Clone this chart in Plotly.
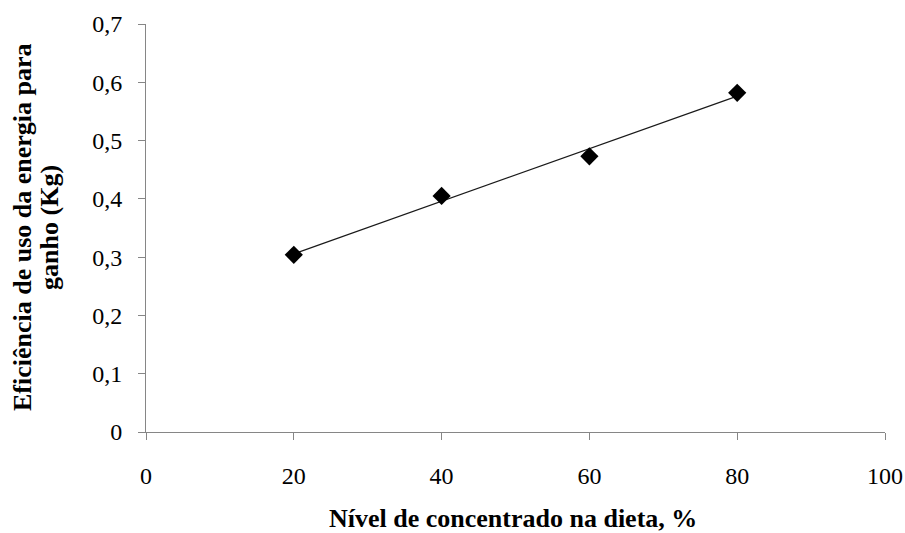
import numpy as np
import plotly.graph_objects as go

nivel = [20, 40, 60, 80]
eficiencia = [0.304, 0.405, 0.473, 0.582]
x_ticks = [0, 20, 40, 60, 80, 100]
y_ticks = [0, 0.1, 0.2, 0.3, 0.4, 0.5, 0.6, 0.7]
y_tick_labels = ["0", "0,1", "0,2", "0,3", "0,4", "0,5", "0,6", "0,7"]

slope, intercept = np.polyfit(nivel, eficiencia, 1)
trend_x = [nivel[0], nivel[-1]]
trend_y = [slope * v + intercept for v in trend_x]

FONT = "Liberation Serif, Times New Roman, serif"

fig = go.Figure()
fig.add_trace(go.Scatter(x=trend_x, y=trend_y, mode="lines",
                         line=dict(color="#1a1a1a", width=1.2), showlegend=False, hoverinfo="skip"))
fig.add_trace(go.Scatter(x=nivel, y=eficiencia, mode="markers",
                         marker=dict(symbol="diamond", size=14, color="black"), showlegend=False))

fig.update_layout(
    template="none",
    width=905, height=533,
    margin=dict(l=146, r=20, t=24, b=101, autoexpand=False),
    plot_bgcolor="white", paper_bgcolor="white",
    font=dict(family=FONT, size=24, color="black"),
    xaxis=dict(range=[0, 100], tickvals=x_ticks, ticktext=[str(v) for v in x_ticks],
               automargin=False,
               showgrid=False, zeroline=False, showline=True, linecolor="#868686", linewidth=1,
               ticks="outside", ticklen=7, tickcolor="#868686", ticklabelstandoff=15,
               tickfont=dict(family=FONT, size=24)),
    yaxis=dict(range=[0, 0.7], tickvals=y_ticks, ticktext=y_tick_labels,
               automargin=False,
               showgrid=False, zeroline=False, showline=True, linecolor="#868686", linewidth=1,
               ticks="outside", ticklen=7, tickcolor="#868686", ticklabelstandoff=11,
               tickfont=dict(family=FONT, size=24)),
    annotations=[
        dict(text="<b>Nível de concentrado na dieta, %</b>", x=0.497, y=-0.213,
             xref="paper", yref="paper", showarrow=False, xanchor="center", yanchor="middle",
             font=dict(family=FONT, size=26)),
        dict(text="<b>Eficiência de uso da energia para</b>", x=-0.1664, y=0.5025,
             xref="paper", yref="paper", showarrow=False, textangle=-90,
             xanchor="center", yanchor="middle", font=dict(family=FONT, size=26)),
        dict(text="<b>ganho (Kg)</b>", x=-0.1300, y=0.5025,
             xref="paper", yref="paper", showarrow=False, textangle=-90,
             xanchor="center", yanchor="middle", font=dict(family=FONT, size=26)),
    ],
)

fig.write_html("out.html", config={"displayModeBar": False},
               post_script="document.body.style.margin='0';document.body.style.overflow='hidden';")
